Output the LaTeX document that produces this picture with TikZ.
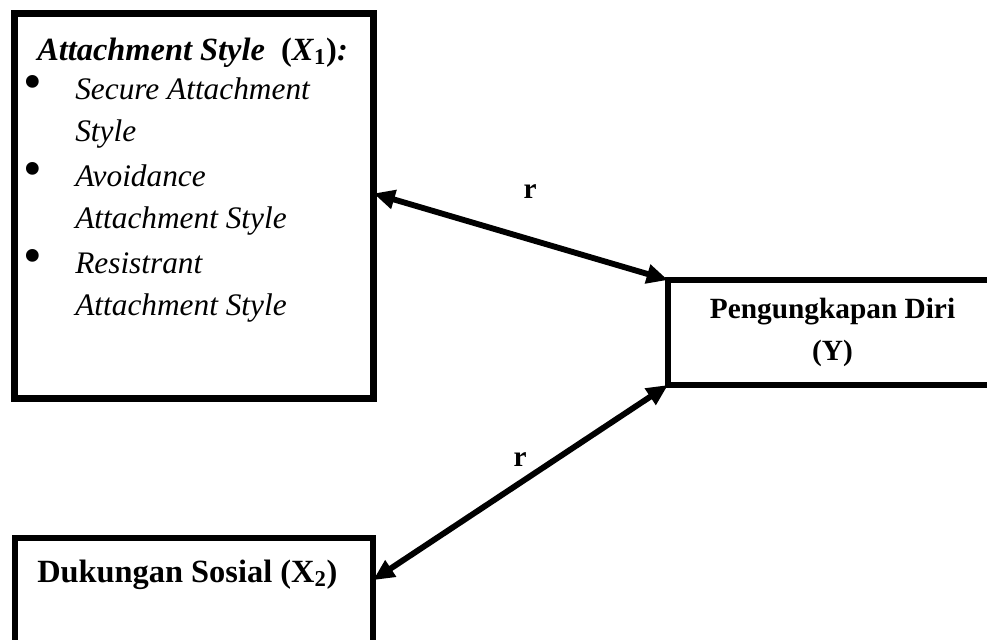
\documentclass[tikz,border=0pt]{standalone}
\usepackage{fontspec}
\setmainfont{Liberation Serif}
\usetikzlibrary{arrows.meta}
\tikzset{
  box/.style={draw=black, line width=4.8pt, rectangle, inner sep=0pt, outer sep=0pt},
  txt/.style={font=\fontsize{23.5pt}{32pt}\selectfont, inner sep=0pt, anchor=base west},
  hd/.style={font=\fontsize{24.3pt}{32pt}\selectfont, inner sep=0pt, anchor=base west},
  blt/.style={font=\fontsize{23.5pt}{32pt}\selectfont, inner sep=0pt, anchor=base},
  ytxt/.style={font=\fontsize{22pt}{31.5pt}\selectfont\bfseries, inner sep=0pt, align=center},
  rlab/.style={font=\fontsize{22pt}{26pt}\selectfont\bfseries, inner sep=0pt},
  dbl/.style={line width=4.4pt, {Triangle[length=16pt,width=14pt]}-{Triangle[length=16pt,width=14pt]}}
}
\begin{document}
\begin{tikzpicture}[x=0.75pt,y=-0.75pt]
\clip (0,0) rectangle (987,639);
\fill[white] (0,0) rectangle (987,639);
% boxes
\node[box, minimum width=269.25pt, minimum height=288.75pt] (x1) at (194,206) {};
\node[box, minimum width=245.25pt, minimum height=78.75pt] (y) at (831.5,332.5) {};
\node[box, minimum width=268.5pt, minimum height=91.5pt] (x2) at (194,599) {};
% box 1 text
\node[hd] (h1) at (37,60) {\bfseries\itshape Attachment Style\ \ \upshape(\textit{X}\textsubscript{1})\itshape:};
\node[blt] (b1) at (33,99) {\scalebox{1.7}{•}};
\node[txt] (l1) at (75,99) {\itshape Secure Attachment};
\node[txt] (l2) at (75,141) {\itshape Style};
\node[blt] (b2) at (33,186) {\scalebox{1.7}{•}};
\node[txt] (l3) at (75,186) {\itshape Avoidance};
\node[txt] (l4) at (75,228) {\itshape Attachment Style};
\node[blt] (b3) at (33,273) {\scalebox{1.7}{•}};
\node[txt] (l5) at (75,273) {\itshape Resistrant};
\node[txt] (l6) at (75,315) {\itshape Attachment Style};
% box Y text
\node[ytxt] (yt) at (832.5,332) {Pengungkapan Diri\\(Y)};
% box X2 text
\node[hd] (x2t) at (37,582) {\bfseries Dukungan Sosial (X\textsubscript{2})};
% connectors
\draw[dbl] (x1.4.4) -- (y.north west);
\draw[dbl] (y.south west) -- (x2.6);
% labels
\node[rlab] (r1) at (530,192) {r};
\node[rlab] (r2) at (520,460) {r};
\end{tikzpicture}
\end{document}
